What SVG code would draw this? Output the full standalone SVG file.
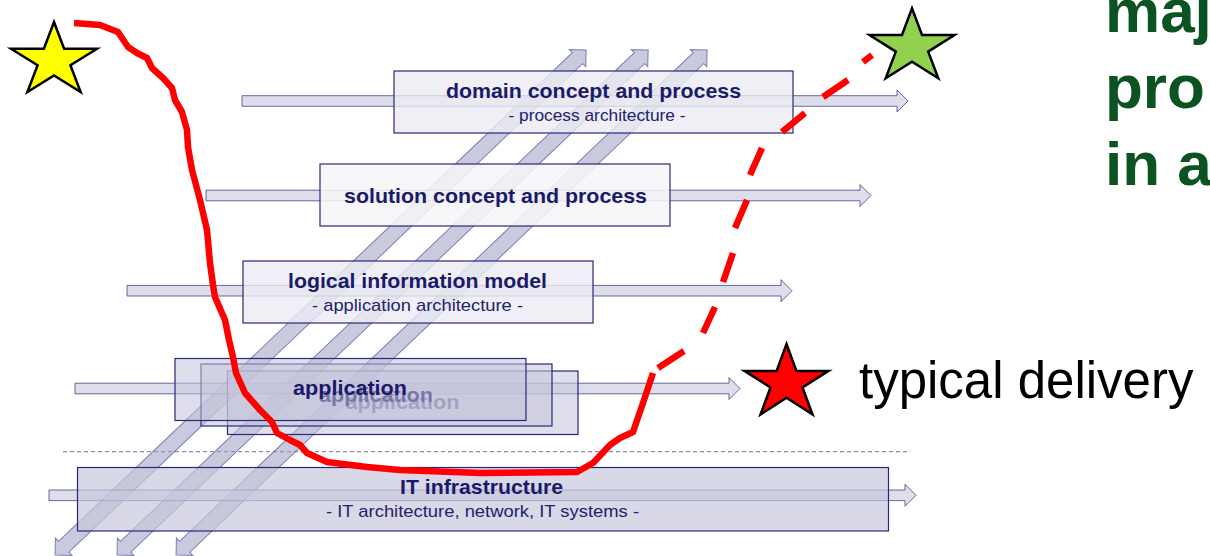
<svg xmlns="http://www.w3.org/2000/svg" xmlns:xlink="http://www.w3.org/1999/xlink" width="1210" height="556" viewBox="0 0 1210 556">
  <style>
    .bar { fill: #c8c8dc; fill-opacity: 0.6; stroke: #3a3a8a; stroke-opacity: 0.75; stroke-width: 1; }
    .diag { fill: #9696be; fill-opacity: 0.5; stroke: #3a3a8a; stroke-opacity: 0.6; stroke-width: 1; }
    .box { stroke: #28287a; stroke-width: 1.2; }
    .light { fill: #ebebf3; fill-opacity: 0.8; }
    .white { fill: #f6f6f8; fill-opacity: 0.85; }
    .app { fill: #c4c4da; fill-opacity: 0.55; }
    .infra { fill: #c8c8dc; fill-opacity: 0.7; }
    .title { font-family: "Liberation Sans", Arial, sans-serif; font-weight: bold; font-size: 21px; fill: #1a1a6a; text-anchor: middle; }
    .sub { font-family: "Liberation Sans", Arial, sans-serif; font-size: 17px; fill: #22226e; text-anchor: middle; }
    .star { stroke: #000; stroke-width: 2.5; stroke-linejoin: miter; }
    .path { fill: none; stroke: #ff0000; stroke-width: 6.5; stroke-linejoin: round; stroke-linecap: butt; }
    .head { font-family: "Liberation Sans", Arial, sans-serif; font-weight: bold; font-size: 62px; fill: #0b5320; }
    .legend { font-family: "Liberation Sans", Arial, sans-serif; font-size: 51px; fill: #000; }
  </style>
  <defs>
    <polygon id="diagArrow" points="0,0 12,-12 12,-7.5 721,-7.5 721,-12 733,0 721,12 721,7.5 12,7.5 12,12"/>
  </defs>

  <!-- separator -->
  <line x1="63" y1="451.7" x2="907" y2="451.7" stroke="#7070a0" stroke-width="1" stroke-dasharray="4 3"/>

  <!-- diagonal cross-layer arrows -->
  <g id="connectors-diagonal" class="diag">
    <use xlink:href="#diagArrow" transform="translate(55 555) rotate(-43.56)"/>
    <use xlink:href="#diagArrow" transform="translate(117 555) rotate(-43.56)"/>
    <use xlink:href="#diagArrow" transform="translate(176 555) rotate(-43.56)"/>
  </g>

  <g id="node-domain">
    <polygon class="bar" points="242,95.7 897,95.7 897,90 908,101 897,112 897,106.3 242,106.3"/>
    <rect class="box light" x="394" y="71" width="399" height="62"/>
    <text class="title" x="593.5" y="98" textLength="295" lengthAdjust="spacingAndGlyphs">domain concept and process</text>
    <text class="sub" x="597" y="121" textLength="177" lengthAdjust="spacingAndGlyphs">- process architecture -</text>
  </g>

  <g id="node-solution">
    <polygon class="bar" points="206,190.2 860,190.2 860,184.5 871,195.5 860,206.5 860,200.8 206,200.8"/>
    <rect class="box white" x="320" y="164" width="350" height="62"/>
    <text class="title" x="495.5" y="203" textLength="303" lengthAdjust="spacingAndGlyphs">solution concept and process</text>
  </g>

  <g id="node-logical">
    <polygon class="bar" points="127,285.4 781,285.4 781,279.7 792,290.7 781,301.7 781,296 127,296"/>
    <rect class="box light" x="243" y="261" width="350" height="62"/>
    <text class="title" x="417.5" y="288" textLength="259" lengthAdjust="spacingAndGlyphs">logical information model</text>
    <text class="sub" x="417.5" y="311" textLength="211" lengthAdjust="spacingAndGlyphs">- application architecture -</text>
  </g>

  <g id="node-application">
    <polygon class="bar" points="75,383.2 729,383.2 729,377.5 740,388.5 729,399.5 729,393.8 75,393.8"/>
    <rect class="box app" x="227.5" y="371" width="350.5" height="63.5"/>
    <text class="title" x="402.5" y="409" textLength="114" lengthAdjust="spacingAndGlyphs">application</text>
    <rect class="box app" x="201" y="364" width="351" height="62"/>
    <text class="title" x="376" y="402" textLength="114" lengthAdjust="spacingAndGlyphs">application</text>
    <rect class="box app" x="175" y="358.5" width="351" height="62"/>
    <text class="title" x="350" y="395" textLength="114" lengthAdjust="spacingAndGlyphs">application</text>
  </g>

  <g id="node-infrastructure">
    <polygon class="bar" points="49,490 905,490 905,484.3 916,495.3 905,506.3 905,500.6 49,500.6"/>
    <rect class="box infra" x="77.5" y="467.5" width="811" height="63.5"/>
    <text class="title" x="481.5" y="494" textLength="163" lengthAdjust="spacingAndGlyphs">IT infrastructure</text>
    <text class="sub" x="482.5" y="517" textLength="313" lengthAdjust="spacingAndGlyphs">- IT architecture, network, IT systems -</text>
  </g>

  <g id="star-start">
    <polygon class="star" fill="#ffff00" points="54,22 64.1,48.7 97,48.7 70.4,65.3 80.6,92 54,75.5 27.4,92 37.6,65.3 11,48.7 43.9,48.7"/>
  </g>
  <g id="star-goal">
    <polygon class="star" fill="#92d050" points="912,8.3 922,35 954.5,35 928.2,51.6 938.3,78.3 912,61.8 885.7,78.3 895.8,51.6 869.5,35 902,35"/>
  </g>
  <g id="star-legend">
    <polygon class="star" fill="#ff0000" points="786.5,344 796.4,370.9 828.5,370.9 802.5,387.5 812.5,414.4 786.5,397.8 760.5,414.4 770.5,387.5 744.5,370.9 776.6,370.9"/>
    <text class="legend" x="859" y="398">typical delivery</text>
  </g>

  <g id="heading">
    <text class="head" x="1105" y="32">maj</text>
    <text class="head" x="1105" y="108">pro</text>
    <text class="head" x="1105" y="185">in a</text>
  </g>

  <g id="connectors">
    <path class="path" d="M74,23 L100,25 L118,32 L128,47 L137,53 L147,58 L152,68 L163,78 L172,88 L175,100 L182,112 L187,130 L188,147 L192,170 L196,185 L200,200 L207,230 L210,263 L213,285 L215,297 L225,320 L229,340 L233,357 L236,373 L245,393 L260,410 L272,422 L277,433 L290,440 L300,445 L307,453 L327,462 L367,467 L400,470 L480,473 L577,472 L593,463 L610,445 L620,438 L633,432 L643,403 L653,373"/>
    <path class="path" d="M658,368 L684,351 M703,333 L715,307 M723,282 L733,253 M735,228 L747,200 M750,175 L762,148 M782,132 L805,113 M823,97 L848,80 M863,62 L872,55"/>
  </g>
</svg>
